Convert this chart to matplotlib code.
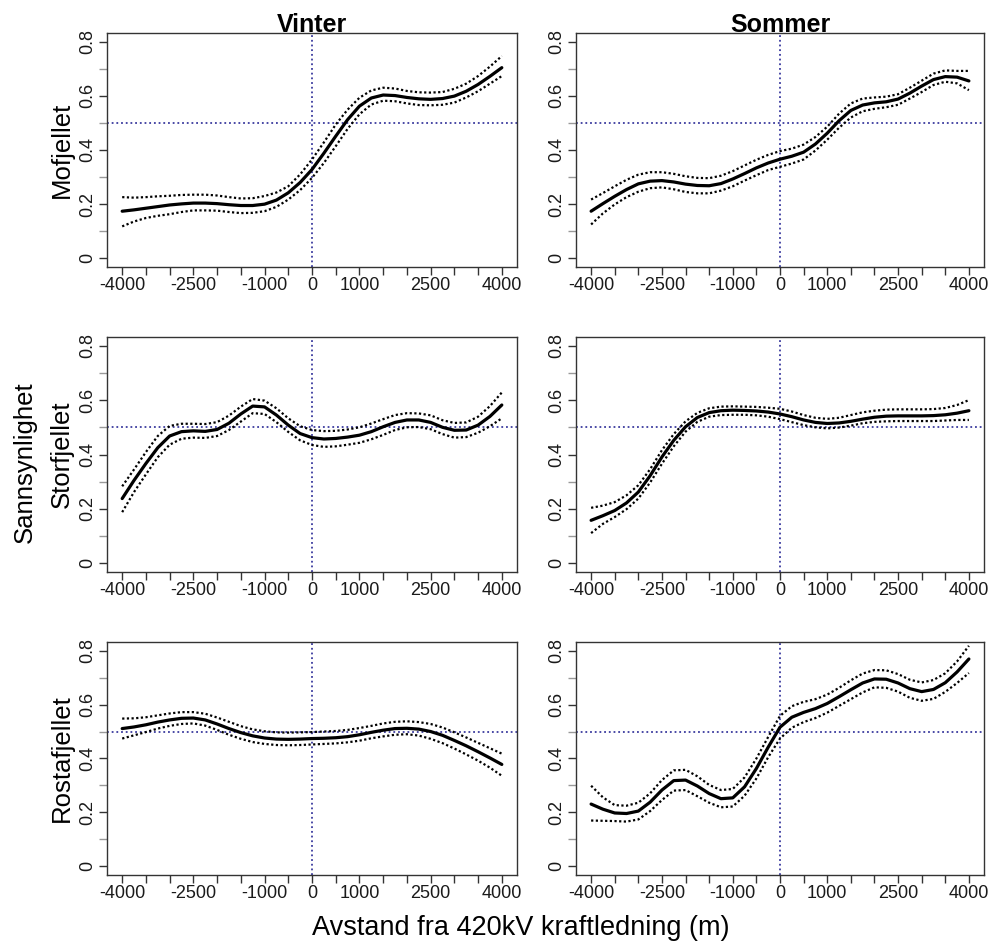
import matplotlib
matplotlib.use("Agg")
import matplotlib.pyplot as plt

plt.rcParams['font.family'] = ['Liberation Sans', 'DejaVu Sans']

# Distance from the power line (m)
distance = [-4000, -3750, -3500, -3250, -3000, -2750, -2500, -2250, -2000,
            -1750, -1500, -1250, -1000, -750, -500, -250, 0,
            250, 500, 750, 1000, 1250, 1500, 1750, 2000,
            2250, 2500, 2750, 3000, 3250, 3500, 3750, 4000]

seasons = ["Vinter", "Sommer"]
areas = ["Mofjellet", "Storfjellet", "Rostafjellet"]

# Predicted probability with lower / upper confidence bands
mof_vinter_fit = [0.174, 0.179, 0.185, 0.191, 0.197, 0.201, 0.204, 0.204, 0.202,
                  0.198, 0.195, 0.195, 0.200, 0.215, 0.242, 0.280, 0.328,
                  0.388, 0.451, 0.512, 0.562, 0.592, 0.603, 0.601, 0.594,
                  0.589, 0.587, 0.590, 0.599, 0.617, 0.642, 0.672, 0.704]
mof_vinter_hi = [0.226, 0.224, 0.226, 0.229, 0.231, 0.234, 0.235, 0.235, 0.232,
                 0.226, 0.221, 0.222, 0.230, 0.243, 0.266, 0.310, 0.365,
                 0.428, 0.494, 0.549, 0.593, 0.620, 0.630, 0.627, 0.618,
                 0.613, 0.612, 0.614, 0.626, 0.645, 0.673, 0.708, 0.747]
mof_vinter_lo = [0.118, 0.136, 0.149, 0.157, 0.163, 0.171, 0.177, 0.177, 0.176,
                 0.171, 0.167, 0.168, 0.174, 0.190, 0.217, 0.252, 0.297,
                 0.352, 0.414, 0.478, 0.532, 0.568, 0.582, 0.580, 0.572,
                 0.566, 0.565, 0.567, 0.575, 0.594, 0.617, 0.645, 0.673]

mof_sommer_fit = [0.174, 0.202, 0.229, 0.254, 0.275, 0.285, 0.287, 0.282, 0.274,
                  0.269, 0.268, 0.276, 0.293, 0.313, 0.334, 0.352, 0.366,
                  0.377, 0.392, 0.422, 0.462, 0.508, 0.546, 0.566, 0.574,
                  0.578, 0.588, 0.610, 0.636, 0.660, 0.671, 0.669, 0.655]
mof_sommer_hi = [0.217, 0.241, 0.266, 0.290, 0.309, 0.318, 0.318, 0.312, 0.303,
                 0.297, 0.296, 0.305, 0.322, 0.343, 0.364, 0.382, 0.396,
                 0.405, 0.420, 0.448, 0.486, 0.534, 0.572, 0.590, 0.594,
                 0.597, 0.606, 0.630, 0.656, 0.682, 0.694, 0.692, 0.692]
mof_sommer_lo = [0.125, 0.166, 0.199, 0.226, 0.246, 0.259, 0.262, 0.255, 0.245,
                 0.240, 0.240, 0.250, 0.266, 0.287, 0.307, 0.326, 0.338,
                 0.350, 0.365, 0.398, 0.438, 0.482, 0.520, 0.543, 0.552,
                 0.558, 0.567, 0.590, 0.614, 0.640, 0.652, 0.646, 0.621]

stor_vinter_fit = [0.238, 0.305, 0.367, 0.425, 0.468, 0.484, 0.487, 0.485, 0.492,
                   0.515, 0.549, 0.578, 0.575, 0.545, 0.508, 0.477, 0.462,
                   0.457, 0.459, 0.464, 0.471, 0.484, 0.502, 0.518, 0.527,
                   0.527, 0.518, 0.500, 0.489, 0.490, 0.508, 0.540, 0.582]
stor_vinter_hi = [0.283, 0.345, 0.409, 0.468, 0.505, 0.513, 0.513, 0.512, 0.519,
                  0.543, 0.576, 0.604, 0.598, 0.570, 0.533, 0.504, 0.490,
                  0.486, 0.487, 0.492, 0.500, 0.514, 0.530, 0.545, 0.552,
                  0.551, 0.544, 0.526, 0.516, 0.518, 0.539, 0.578, 0.628]
stor_vinter_lo = [0.188, 0.262, 0.327, 0.390, 0.436, 0.458, 0.462, 0.461, 0.468,
                  0.490, 0.521, 0.552, 0.549, 0.519, 0.483, 0.452, 0.435,
                  0.428, 0.430, 0.436, 0.443, 0.456, 0.472, 0.490, 0.500,
                  0.501, 0.493, 0.475, 0.462, 0.464, 0.480, 0.504, 0.533]

stor_sommer_fit = [0.158, 0.175, 0.194, 0.222, 0.262, 0.322, 0.391, 0.452, 0.502,
                   0.536, 0.554, 0.561, 0.563, 0.562, 0.560, 0.556, 0.549,
                   0.539, 0.527, 0.518, 0.514, 0.516, 0.522, 0.530, 0.537,
                   0.541, 0.542, 0.542, 0.542, 0.543, 0.546, 0.552, 0.561]
stor_sommer_hi = [0.204, 0.212, 0.225, 0.250, 0.287, 0.346, 0.416, 0.475, 0.522,
                  0.553, 0.570, 0.576, 0.577, 0.576, 0.575, 0.572, 0.568,
                  0.558, 0.545, 0.535, 0.531, 0.535, 0.545, 0.555, 0.561,
                  0.565, 0.566, 0.566, 0.566, 0.567, 0.571, 0.582, 0.600]
stor_sommer_lo = [0.111, 0.145, 0.170, 0.199, 0.238, 0.297, 0.366, 0.430, 0.484,
                  0.520, 0.539, 0.545, 0.546, 0.546, 0.544, 0.539, 0.530,
                  0.519, 0.508, 0.500, 0.496, 0.499, 0.506, 0.515, 0.520,
                  0.522, 0.523, 0.523, 0.523, 0.523, 0.525, 0.527, 0.527]

rost_vinter_fit = [0.511, 0.517, 0.525, 0.535, 0.543, 0.549, 0.550, 0.543, 0.528,
                   0.511, 0.496, 0.484, 0.476, 0.472, 0.471, 0.472, 0.474,
                   0.475, 0.477, 0.481, 0.488, 0.497, 0.505, 0.511, 0.512,
                   0.509, 0.500, 0.486, 0.467, 0.447, 0.425, 0.402, 0.378]
rost_vinter_hi = [0.548, 0.549, 0.553, 0.560, 0.567, 0.572, 0.572, 0.566, 0.552,
                  0.536, 0.520, 0.508, 0.501, 0.497, 0.496, 0.497, 0.498,
                  0.500, 0.502, 0.506, 0.513, 0.521, 0.530, 0.536, 0.538,
                  0.535, 0.528, 0.515, 0.497, 0.478, 0.458, 0.438, 0.418]
rost_vinter_lo = [0.474, 0.486, 0.498, 0.511, 0.521, 0.528, 0.530, 0.522, 0.506,
                  0.488, 0.473, 0.461, 0.454, 0.450, 0.449, 0.450, 0.452,
                  0.454, 0.456, 0.460, 0.466, 0.475, 0.482, 0.488, 0.490,
                  0.485, 0.473, 0.457, 0.437, 0.415, 0.392, 0.366, 0.336]

rost_sommer_fit = [0.231, 0.212, 0.198, 0.196, 0.205, 0.238, 0.283, 0.318, 0.320,
                   0.298, 0.270, 0.251, 0.254, 0.295, 0.363, 0.442, 0.516,
                   0.553, 0.571, 0.585, 0.604, 0.629, 0.655, 0.680, 0.695,
                   0.694, 0.680, 0.659, 0.648, 0.656, 0.681, 0.721, 0.769]
rost_sommer_hi = [0.299, 0.256, 0.227, 0.225, 0.236, 0.271, 0.320, 0.356, 0.358,
                  0.334, 0.302, 0.283, 0.287, 0.330, 0.400, 0.480, 0.558,
                  0.594, 0.610, 0.620, 0.637, 0.662, 0.690, 0.715, 0.728,
                  0.727, 0.713, 0.692, 0.682, 0.691, 0.716, 0.760, 0.818]
rost_sommer_lo = [0.170, 0.169, 0.168, 0.166, 0.174, 0.205, 0.246, 0.281, 0.283,
                  0.260, 0.236, 0.219, 0.222, 0.262, 0.326, 0.405, 0.474,
                  0.514, 0.535, 0.550, 0.570, 0.595, 0.620, 0.645, 0.664,
                  0.662, 0.648, 0.625, 0.614, 0.621, 0.647, 0.680, 0.717]

panels = [
    [(mof_vinter_fit, mof_vinter_lo, mof_vinter_hi),
     (mof_sommer_fit, mof_sommer_lo, mof_sommer_hi)],
    [(stor_vinter_fit, stor_vinter_lo, stor_vinter_hi),
     (stor_sommer_fit, stor_sommer_lo, stor_sommer_hi)],
    [(rost_vinter_fit, rost_vinter_lo, rost_vinter_hi),
     (rost_sommer_fit, rost_sommer_lo, rost_sommer_hi)],
]

x_major = [-4000, -2500, -1000, 0, 1000, 2500, 4000]
x_minor = [-3500, -3000, -2000, -1500, -500, 500, 1500, 2000, 3000, 3500]
y_major = [0, 0.2, 0.4, 0.6, 0.8]
y_minor = [0.1, 0.3, 0.5, 0.7]

W, H = 990, 947
fig = plt.figure(figsize=(W / 100, H / 100), dpi=100)

col_px = [(107, 517), (576, 984)]
row_px = [(33, 267), (337, 572), (642, 875)]

ref_color = "#3a3a9e"
frame_color = "#333333"

for r, (top, bot) in enumerate(row_px):
    for c, (left, right) in enumerate(col_px):
        ax = fig.add_axes([left / W, 1 - bot / H, (right - left) / W, (bot - top) / H])
        fit, lo, hi = panels[r][c]
        ax.axhline(0.5, color=ref_color, lw=1.3, linestyle=(0, (1, 1.6)), zorder=1)
        ax.axvline(0, color=ref_color, lw=1.3, linestyle=(0, (1, 1.6)), zorder=1)
        ax.plot(distance, lo, color="black", lw=1.6, linestyle=(0, (1, 1.1)), zorder=2)
        ax.plot(distance, hi, color="black", lw=1.6, linestyle=(0, (1, 1.1)), zorder=2)
        ax.plot(distance, fit, color="black", lw=2.3, solid_capstyle="round",
                solid_joinstyle="round", zorder=3)

        ax.set_xlim(-4320, 4320)
        ax.set_ylim(-0.032, 0.832)
        ax.set_xticks(x_major)
        ax.set_xticklabels([str(v) for v in x_major])
        ax.set_xticks(x_minor, minor=True)
        ax.set_yticks(y_major)
        ax.set_yticklabels(["0", "0.2", "0.4", "0.6", "0.8"], rotation=90, va="center")
        ax.set_yticks(y_minor, minor=True)
        ax.tick_params(axis="both", which="both", direction="out", length=6,
                       width=1.0, color=frame_color, labelsize=13,
                       labelcolor="#1a1a1a")
        ax.tick_params(axis="x", which="major", pad=1)
        ax.tick_params(axis="y", which="major", pad=2)
        ax.tick_params(axis="y", which="minor", color="#999999")
        for sp in ax.spines.values():
            sp.set_color(frame_color)
            sp.set_linewidth(1.0)

        if r == 0:
            fig.text((left + right) / 2 / W, 1 - 32 / H, seasons[c],
                     ha="center", va="baseline", fontsize=18, fontweight="bold")
        if c == 0:
            fig.text(62 / W, 1 - ((top + bot) / 2) / H, areas[r], rotation=90,
                     ha="center", va="center", fontsize=18.5)

fig.text(25 / W, 1 - 462 / H, "Sannsynlighet", rotation=90,
         ha="center", va="center", fontsize=18.5)
fig.text(521 / W, 1 - 928 / H, "Avstand fra 420kV kraftledning (m)",
         ha="center", va="center", fontsize=19.5)

fig.savefig("out.png", dpi=100, facecolor="white")
